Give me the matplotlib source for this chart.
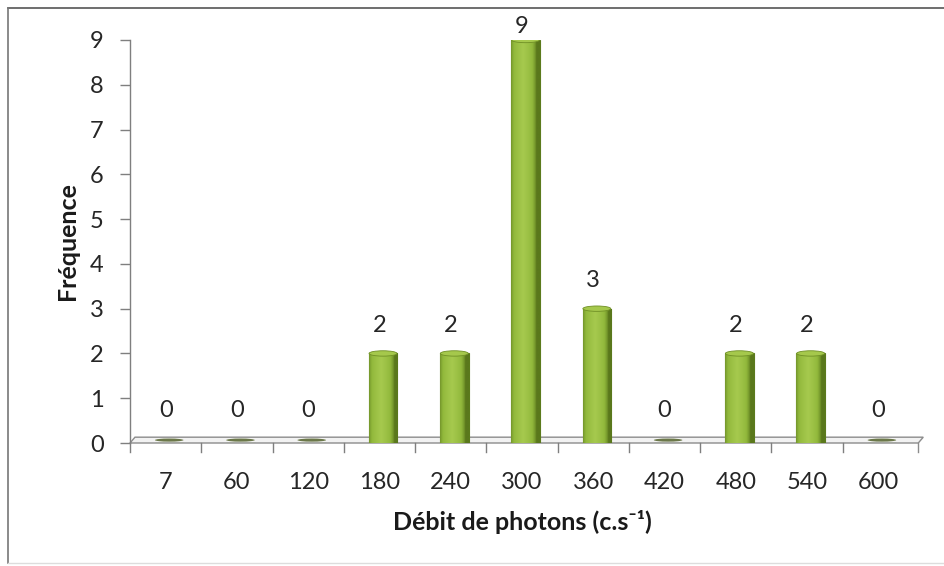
import matplotlib
matplotlib.use("Agg")
import matplotlib.pyplot as plt
import numpy as np
from matplotlib.patches import Polygon, Ellipse
from matplotlib.lines import Line2D

categories = ["7", "60", "120", "180", "240", "300", "360", "420", "480", "540", "600"]
frequencies = [0, 0, 0, 2, 2, 9, 3, 0, 2, 2, 0]

plt.rcParams['font.family'] = ['Lato', 'DejaVu Sans']

W, H = 945, 566
fig = plt.figure(figsize=(W / 100, H / 100), dpi=100)
left, right, bottom, top = 130, 914, 443, 40
ax = fig.add_axes([left / W, 1 - bottom / H, (right - left) / W, (bottom - top) / H])

x = np.arange(len(categories))
bw = 0.40
xoff = 0.05
ax.set_xlim(-0.5, len(categories) - 0.5)
ax.set_ylim(0, 9)

FS = 17
TXT = '#262626'

# floor plane
depth_x, depth_y = 0.07, 0.13
xr = len(categories) - 0.5 + 0.06
floor = Polygon([(-0.5, 0), (xr, 0), (xr + depth_x, depth_y), (-0.5 + depth_x, depth_y)],
                closed=True, facecolor='#f2f2f2', edgecolor='#8c8c8c', lw=1.0,
                zorder=1, clip_on=False)
ax.add_patch(floor)
ax.plot([xr, xr], [0, -0.2], color='#8c8c8c', lw=1.0, clip_on=False, zorder=1)

# zero-value markers (flat cylinder bases)
for xi, v in zip(x, frequencies):
    if v == 0:
        ax.add_patch(Ellipse((xi + xoff, depth_y * 0.5), bw, 0.07, facecolor='#4a5a20',
                             edgecolor='none', alpha=0.8, zorder=2))

bars = ax.bar(x + xoff, frequencies, width=bw, color='#94bb3c', edgecolor='#5b7a1c',
              lw=0.8, zorder=3)

# cylinder shading gradient
grad = np.linspace(0, 1, 256)
prof = np.clip(1 - np.abs(grad - 0.42) * 2.2, 0, 1) ** 0.6
cmap = matplotlib.colors.LinearSegmentedColormap.from_list(
    'cyl', ['#5a781c', '#92b93c', '#a6c94e'])
img = prof[np.newaxis, :]
for b, v in zip(bars, frequencies):
    if v <= 0:
        continue
    x0 = b.get_x()
    im = ax.imshow(img, extent=[x0, x0 + b.get_width(), 0, v], aspect='auto',
                   cmap=cmap, vmin=0, vmax=1, zorder=3.5, interpolation='bilinear')
    im.set_clip_path(b)
    ax.add_patch(Ellipse((x0 + b.get_width() / 2, v), b.get_width() * 0.98, 0.12,
                         facecolor='#a5c84c', edgecolor='#6f8f25', lw=0.6, zorder=4))

# value labels
for xi, v in zip(x, frequencies):
    ypos = min(v + 0.62, 9.3) if v > 0 else 0.73
    ax.text(xi, ypos, str(v), ha='center', va='center', fontsize=FS,
            color=TXT, zorder=5, clip_on=False)

for s in ['top', 'right', 'bottom']:
    ax.spines[s].set_visible(False)
ax.spines['left'].set_color('#7f7f7f')
ax.spines['left'].set_linewidth(1.0)

ax.set_yticks(range(0, 10))
ax.tick_params(axis='y', length=7, width=1, color='#7f7f7f', labelsize=FS,
               labelcolor=TXT, pad=12)
ax.set_xticks(x)
ax.set_xticklabels(categories)
ax.tick_params(axis='x', length=0, labelsize=FS, labelcolor=TXT, pad=21)
# boundary ticks
for b in np.arange(-0.5, len(categories) - 1, 1.0):
    ax.plot([b, b], [0, -0.2], color='#7f7f7f', lw=1.0, clip_on=False, zorder=1)

ax.set_ylabel('Fréquence', fontsize=18, fontweight='bold', color='#1a1a1a', labelpad=8)
ax.set_xlabel('Débit de photons (c.s⁻¹)', fontsize=18, fontweight='bold',
              color='#1a1a1a', labelpad=12)
ax.set_facecolor('none')

# figure border
fig.add_artist(Line2D([8 / W, 1], [1 - 8 / H, 1 - 8 / H], color='#555555', lw=1.2))
fig.add_artist(Line2D([8 / W, 8 / W], [1 - 8 / H, 1 - 563 / H], color='#777777', lw=1.2))
fig.add_artist(Line2D([8 / W, 1], [1 - 563 / H, 1 - 563 / H], color='#dddddd', lw=1.0))

fig.savefig('out.png', dpi=100)
